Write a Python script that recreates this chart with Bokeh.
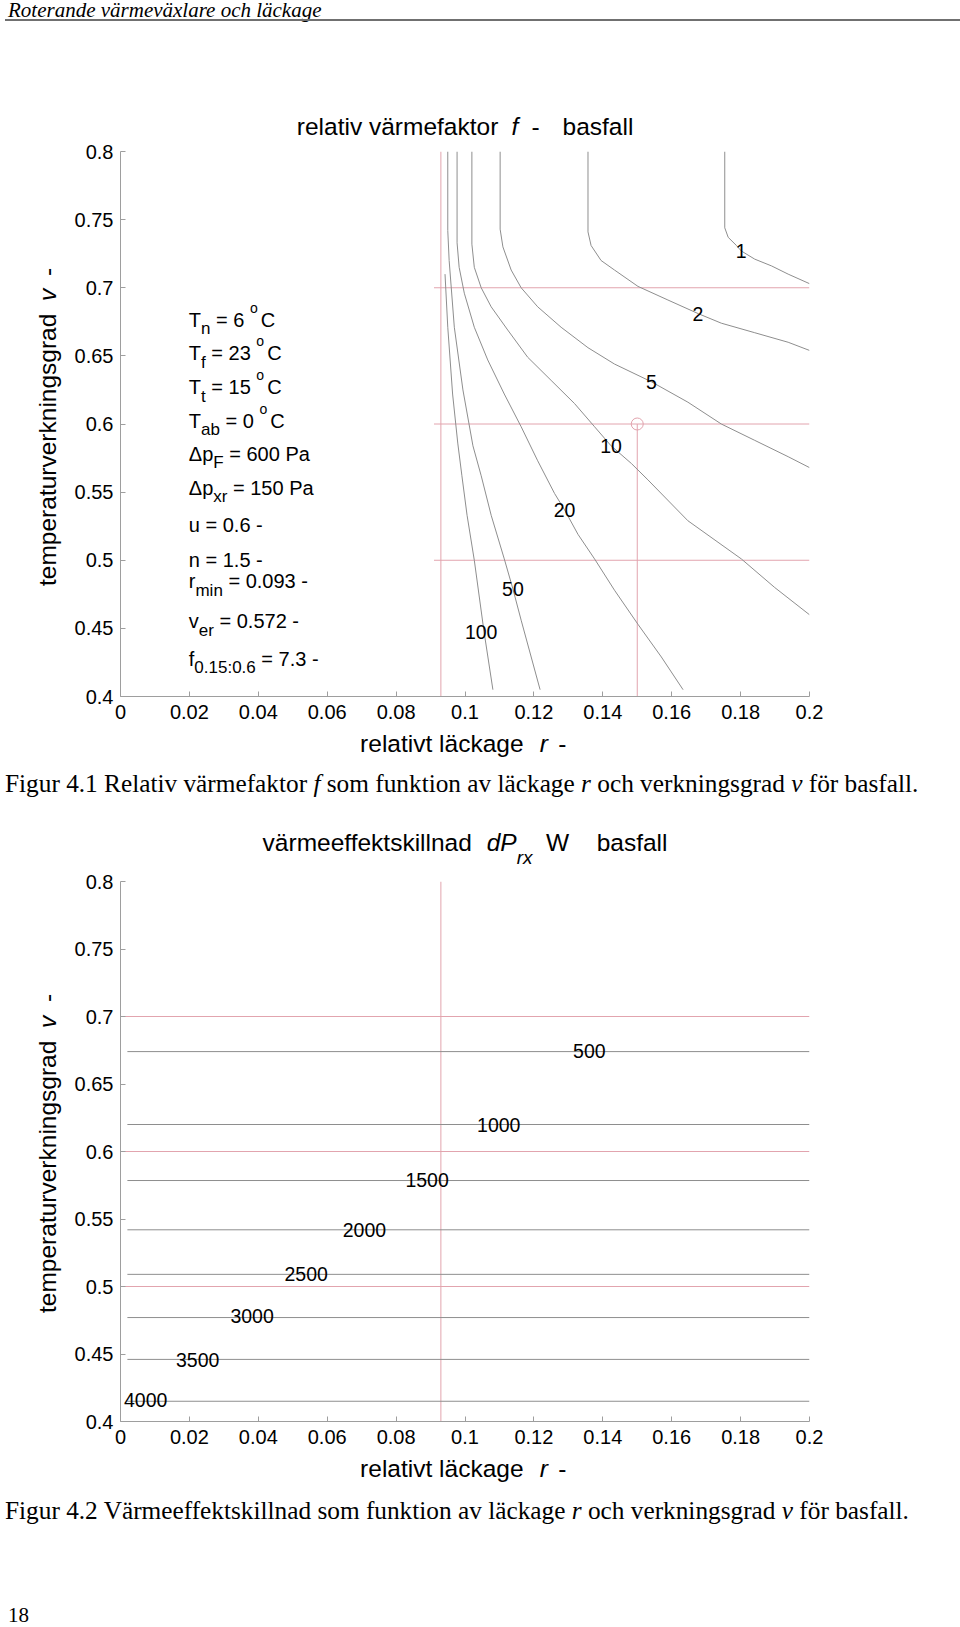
from bokeh.plotting import figure
from bokeh.models import Range1d, FixedTicker, Label, Div, CustomJSTickFormatter, ColumnDataSource
from bokeh.layouts import column, row
from bokeh.core.properties import value
from bokeh.embed import file_html
from bokeh.resources import INLINE

# ---------------- shared axes ----------------
x_ticks = [0, 0.02, 0.04, 0.06, 0.08, 0.1, 0.12, 0.14, 0.16, 0.18, 0.2]
x_tick_labels = ["0", "0.02", "0.04", "0.06", "0.08", "0.1", "0.12", "0.14", "0.16", "0.18", "0.2"]
y_ticks = [0.4, 0.45, 0.5, 0.55, 0.6, 0.65, 0.7, 0.75, 0.8]
y_tick_labels = ["0.4", "0.45", "0.5", "0.55", "0.6", "0.65", "0.7", "0.75", "0.8"]

# ---------------- Figur 4.1 : relativ värmefaktor f ----------------
f_levels = [1, 2, 5, 10, 20, 50, 100]
f1_r = [0.1754, 0.1754, 0.1764, 0.1788, 0.1802, 0.1841, 0.1890, 0.1938, 0.2000]
f1_v = [0.800, 0.744, 0.737, 0.731, 0.727, 0.721, 0.716, 0.710, 0.703]
f2_r = [0.1357, 0.1357, 0.1366, 0.1395, 0.1434, 0.1502, 0.1589, 0.1677, 0.1744, 0.1841, 0.1938, 0.2000]
f2_v = [0.800, 0.741, 0.731, 0.720, 0.713, 0.701, 0.691, 0.681, 0.674, 0.667, 0.660, 0.654]
f5_r = [0.1102, 0.1102, 0.1110, 0.1134, 0.1163, 0.1211, 0.1279, 0.1357, 0.1434, 0.1541, 0.1647, 0.1744, 0.1841, 0.1938, 0.2000]
f5_v = [0.800, 0.743, 0.730, 0.713, 0.700, 0.686, 0.671, 0.656, 0.644, 0.631, 0.616, 0.600, 0.588, 0.576, 0.568]
f10_r = [0.1020, 0.1020, 0.1027, 0.1047, 0.1076, 0.1124, 0.1182, 0.1250, 0.1318, 0.1376, 0.1424, 0.1483, 0.1531, 0.1647, 0.1802, 0.1899, 0.2000]
f10_v = [0.800, 0.732, 0.715, 0.700, 0.686, 0.669, 0.649, 0.632, 0.615, 0.598, 0.584, 0.571, 0.559, 0.529, 0.501, 0.480, 0.460]
f20_r = [0.0977, 0.0977, 0.0983, 0.0998, 0.1027, 0.1066, 0.1114, 0.1163, 0.1211, 0.1260, 0.1289, 0.1328, 0.1376, 0.1434, 0.1502, 0.1570, 0.1633]
f20_v = [0.800, 0.733, 0.715, 0.696, 0.671, 0.647, 0.622, 0.598, 0.573, 0.549, 0.537, 0.519, 0.501, 0.478, 0.453, 0.429, 0.405]
f50_r = [0.0950, 0.0950, 0.0954, 0.0969, 0.0994, 0.1023, 0.1047, 0.1076, 0.1114, 0.1139, 0.1163, 0.1218]
f50_v = [0.800, 0.742, 0.720, 0.671, 0.625, 0.584, 0.562, 0.533, 0.501, 0.479, 0.456, 0.405]
f100_r = [0.0942, 0.0950, 0.0964, 0.0979, 0.0991, 0.1006, 0.1027, 0.1055, 0.1081]
f100_v = [0.710, 0.671, 0.622, 0.586, 0.562, 0.533, 0.500, 0.448, 0.405]
f_label_r = [0.1802, 0.1676, 0.1541, 0.1424, 0.1289, 0.1139, 0.1047]
f_label_v = [0.727, 0.681, 0.631, 0.584, 0.537, 0.479, 0.447]

r_min = 0.093
v_ref = [0.5, 0.6, 0.7]
ref_r_span1 = [0.091, 0.2]
r_design = 0.15
v_design = 0.6

# ---------------- Figur 4.2 : värmeeffektskillnad dP_rx ----------------
dp_levels = [500, 1000, 1500, 2000, 2500, 3000, 3500, 4000]
dp_v = [0.674, 0.620, 0.5785, 0.542, 0.509, 0.477, 0.446, 0.415]
dp_r_span = [0.002, 0.2]
dp_label_r = [0.1361, 0.1098, 0.0890, 0.0708, 0.0539, 0.0382, 0.0224, 0.0073]
dp_label_v = [0.6743, 0.6193, 0.5790, 0.5422, 0.5094, 0.4778, 0.4459, 0.4156]
ref_r_span2 = [0.001, 0.2]

GRAY = "#8e8e8e"
RED = "#e2a4ae"
AXC = "#9e9e9e"
SANS = "Liberation Sans"
SANS_CSS = "'Liberation Sans', Arial, sans-serif"
SERIF_CSS = "'Liberation Serif', 'Times New Roman', serif"

AW = {' ': 278, '.': 278, ':': 278, '=': 584, '-': 333, 'T': 611, 'C': 722, 'P': 667, 'F': 611,
      'Δ': 668, 'a': 556, 'b': 556, 'e': 556, 'f': 278, 'i': 222, 'm': 833, 'n': 556, 'o': 556,
      'p': 556, 'r': 333, 't': 278, 'u': 556, 'v': 500, 'x': 500}


def tw(s, size):
    return sum(AW.get(c, 556) for c in s) / 1000.0 * size


def make_fig(height, top, bottom):
    p = figure(width=892, height=height, x_range=Range1d(0, 0.2), y_range=Range1d(0.4, 0.8),
               output_backend="svg", toolbar_location=None,
               min_border_left=52, min_border_right=151, min_border_top=top, min_border_bottom=bottom)
    p.outline_line_color = None
    p.grid.visible = False
    p.background_fill_color = "white"
    p.border_fill_color = "white"
    for ax, tv, tl in ((p.xaxis[0], x_ticks, x_tick_labels), (p.yaxis[0], y_ticks, y_tick_labels)):
        ax.ticker = FixedTicker(ticks=tv)
        ax.formatter = CustomJSTickFormatter(args=dict(tvals=tv, tlabs=tl), code="""
            let best = 0, d = Infinity;
            for (let i = 0; i < tvals.length; i++) { const e = Math.abs(tvals[i] - tick); if (e < d) { d = e; best = i; } }
            return tlabs[best];""")
        ax.axis_line_color = AXC
        ax.major_tick_line_color = AXC
        ax.major_tick_in = 5
        ax.major_tick_out = 0
        ax.minor_tick_line_color = None
        ax.major_label_text_font = SANS
        ax.major_label_text_font_size = "20px"
        ax.major_label_text_color = "black"
    p.xaxis.major_label_standoff = 8
    p.yaxis.major_label_standoff = 7
    return p


# page-pixel -> data helper for in-frame texts (frame: page x 120..809, y 151..696)
def P1(X, Y):
    return ((X - 120) / 3445.0, 0.4 + (696 - Y) * 0.4 / 545.0)


# ---- html helpers for the texts outside the frames (page px, div origin oy) ----
def hspan(X, base, oy, text, fs, italic=False, serif=False):
    asc = 0.8375 if serif else 0.8465
    top = base - oy - asc * fs
    fam = SERIF_CSS if serif else SANS_CSS
    st = "font-style:italic;" if italic else ""
    return (f'<div style="position:absolute;left:{X:.1f}px;top:{top:.1f}px;font-family:{fam};'
            f'font-size:{fs}px;line-height:1;white-space:pre;{st}color:#000;">{text}</div>')


def vspan(Xbase, Ystart, oy, text, fs, italic=False):
    L = Xbase - 0.8465 * fs
    T = Ystart - oy
    st = "font-style:italic;" if italic else ""
    return (f'<div style="position:absolute;left:{L:.1f}px;top:{T:.1f}px;transform-origin:0 0;'
            f'transform:rotate(-90deg);font-family:{SANS_CSS};font-size:{fs}px;line-height:1;'
            f'white-space:pre;{st}color:#000;">{text}</div>')


def box(w, h, inner):
    return (f'<div style="position:relative;width:{w}px;height:{h}px;background:#fff;overflow:visible;">'
            + "".join(inner) + '</div>')


LBL = 24.5

# ================= figure 1 =================
p1 = make_fig(590, 11, 34)
for vv in v_ref:
    p1.line(ref_r_span1, [vv, vv], line_color=RED, line_width=1)
p1.line([r_min, r_min], [0.4, 0.8], line_color=RED, line_width=1)
p1.line([r_design, r_design], [0.4, v_design], line_color=RED, line_width=1)
p1.scatter([r_design], [v_design], marker="circle", size=12, fill_color=None, line_color=RED, line_width=1)

for rr, vv in ((f1_r, f1_v), (f2_r, f2_v), (f5_r, f5_v), (f10_r, f10_v), (f20_r, f20_v), (f50_r, f50_v), (f100_r, f100_v)):
    p1.line(rr, vv, line_color=GRAY, line_width=1)

src1 = ColumnDataSource(dict(x=f_label_r, y=f_label_v, t=[str(l) for l in f_levels]))
p1.text(x="x", y="y", text="t", source=src1, text_font=value(SANS), text_font_size=value("19.5px"),
        text_align="center", text_baseline="middle", text_color="black")

# parameter block
block = [
    [("T", "n"), ("n", "sub"), (" = 6 ", "n"), ("o", "sup"), ("C", "n")],
    [("T", "n"), ("f", "sub"), (" = 23 ", "n"), ("o", "sup"), ("C", "n")],
    [("T", "n"), ("t", "sub"), (" = 15 ", "n"), ("o", "sup"), ("C", "n")],
    [("T", "n"), ("ab", "sub"), (" = 0 ", "n"), ("o", "sup"), ("C", "n")],
    [("Δp", "n"), ("F", "sub"), (" = 600 Pa", "n")],
    [("Δp", "n"), ("xr", "sub"), (" = 150 Pa", "n")],
    [("u = 0.6 -", "n")],
    [("n = 1.5 -", "n")],
    [("r", "n"), ("min", "sub"), (" = 0.093 -", "n")],
    [("v", "n"), ("er", "sub"), (" = 0.572 -", "n")],
    [("f", "n"), ("0.15:0.6", "sub"), (" = 7.3 -", "n")],
]
block_base = [319.3, 352.7, 386.7, 420, 453.3, 487.3, 524, 559, 580.7, 620.7, 658]
SIZES = {"n": 20, "sub": 17, "sup": 14}
SHIFT = {"n": 0, "sub": 9, "sup": -12}
for segs, base in zip(block, block_base):
    X = 188.3
    for s, k in segs:
        fs = SIZES[k]
        body = s.lstrip(" ")
        X += tw(s[:len(s) - len(body)], fs)
        x, y = P1(X, base + SHIFT[k])
        p1.add_layout(Label(x=x, y=y, text=body.rstrip(" "), text_font=SANS, text_font_size=f"{fs}px",
                            text_align="left", text_baseline="alphabetic", text_color="black"))
        X += tw(body, fs) + (3 if k == "sup" else 0)

# ================= figure 2 =================
p2 = make_fig(585, 11, 34)
for vv in v_ref:
    p2.line(ref_r_span2, [vv, vv], line_color=RED, line_width=1)
p2.line([r_min, r_min], [0.4, 0.8], line_color=RED, line_width=1)
for vv in dp_v:
    p2.line(dp_r_span, [vv, vv], line_color=GRAY, line_width=1)
src2 = ColumnDataSource(dict(x=dp_label_r, y=dp_label_v, t=[str(l) for l in dp_levels]))
p2.text(x="x", y="y", text="t", source=src2, text_font=value(SANS), text_font_size=value("19.5px"),
        text_align="center", text_baseline="middle", text_color="black")

# ================= page texts (divs) =================
# top: page y 0..140
top_div = Div(width=960, height=140, margin=(0, 0, 0, 0), text=box(960, 140, [
    hspan(8, 17.6, 0, "Roterande värmeväxlare och läckage", 21, italic=True, serif=True),
    '<div style="position:absolute;left:5px;width:955px;top:19px;height:0;border-top:2px solid #707070;"></div>',
    hspan(296.8, 135.5, 0, "relativ värmefaktor", LBL),
    hspan(511.6, 135.5, 0, "f", LBL, italic=True),
    hspan(531.4, 135.5, 0, "-", LBL),
    hspan(562.5, 135.5, 0, "basfall", LBL),
]))

# y label of fig 1: page y 140..730
ylab1 = Div(width=68, height=590, margin=(0, 0, 0, 0), text=box(68, 590, [
    vspan(57, 586.4, 140, "temperaturverkningsgrad", LBL),
    vspan(57, 301.0, 140, "v", LBL, italic=True),
    vspan(57, 275.5, 140, "-", LBL),
]))

# middle: page y 730..870
mid_div = Div(width=960, height=140, margin=(0, 0, 0, 0), text=box(960, 140, [
    hspan(360.1, 752.5, 730, "relativt läckage", LBL),
    hspan(539.7, 752.5, 730, "r", LBL, italic=True),
    hspan(558.3, 752.5, 730, "-", LBL),
    hspan(5, 792.6, 730, "Figur 4.1 Relativ värmefaktor <i>f</i> som funktion av läckage <i>r</i> och "
                         "verkningsgrad <i>v</i> för basfall.", 25.3, serif=True),
    hspan(262.6, 851.5, 730, "värmeeffektskillnad", LBL),
    hspan(486.7, 851.5, 730, "dP", LBL, italic=True),
    hspan(516.8, 864.0, 730, "rx", 19, italic=True),
    hspan(545.9, 851.5, 730, "W", LBL),
    hspan(596.7, 851.5, 730, "basfall", LBL),
]))

# y label of fig 2: page y 870..1455
ylab2 = Div(width=68, height=585, margin=(0, 0, 0, 0), text=box(68, 585, [
    vspan(57, 1312.8, 870, "temperaturverkningsgrad", LBL),
    vspan(57, 1027.5, 870, "v", LBL, italic=True),
    vspan(57, 1002.0, 870, "-", LBL),
]))

# bottom: page y 1455..1627
bot_div = Div(width=960, height=172, margin=(0, 0, 0, 0), text=box(960, 172, [
    hspan(360.1, 1478.0, 1455, "relativt läckage", LBL),
    hspan(539.7, 1478.0, 1455, "r", LBL, italic=True),
    hspan(558.3, 1478.0, 1455, "-", LBL),
    hspan(5, 1519.0, 1455, "Figur 4.2 Värmeeffektskillnad som funktion av läckage <i>r</i> och "
                          "verkningsgrad <i>v</i> för basfall.", 25.3, serif=True),
    hspan(8, 1622.6, 1455, "18", 21, serif=True),
]))

page = column(top_div, row(ylab1, p1, spacing=0), mid_div, row(ylab2, p2, spacing=0), bot_div, spacing=0)
open("out.html", "w").write(file_html(page, INLINE))
